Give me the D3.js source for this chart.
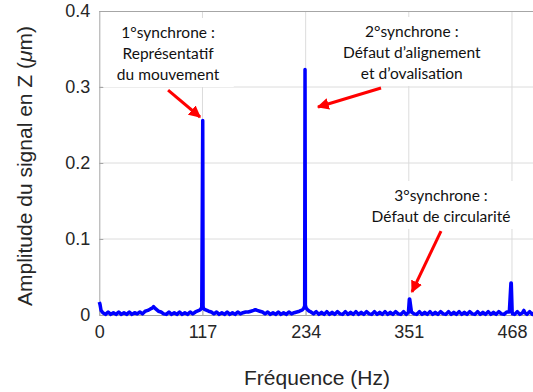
<!DOCTYPE html>
<html><head><meta charset="utf-8">
<script src="https://cdn.jsdelivr.net/npm/d3@7"></script>
<style>body{margin:0;background:#fff}svg{display:block}</style>
</head><body>
<svg id="c" width="533" height="392"></svg>
<script>
// Spectrum (frequency in Hz, amplitude in µm)
const freq = [0,0.8,2,4,7,10,13,16,19,22,25,28,31,34,37,40,43,46,49,52,55,58,60,61.5,63,65,67,70,73,76,79,82,85,88,91,94,97,100,103,106,109,111,113,114.5,116.2,117.3,117.7,118.5,120,122,124,127,130,133,136,139,142,145,148,151,154,157,160,163,166,169,172,175,177,179,182,185,188,191,194,197,200,203,206,209,212,215,218,221,224,227,229,230.5,232,232.9,233.3,233.7,234.6,236,238,240,243,246,249,252,255,258,261,264,267,270,273,276,279,282,285,288,291,294,297,300,303,306,309,312,315,318,321,324,327,330,333,336,339,342,345,348,350.2,350.6,351.6,352,354,357,360,363,366,369,372,375,378,381,384,387,390,393,396,399,402,405,408,411,414,417,420,423,426,429,432,435,438,441,444,447,450,453,456,459,462,465,466.8,467.2,468.2,468.6,471,474,477,480,481.5,482.5,485,488,491,494,497,500,505,510,515,520];
const amp  = [0.017,0.014,0.006,0.003,0.0008,0.004,0.0008,0.003,0.0008,0.004,0.0008,0.003,0.0008,0.004,0.0008,0.003,0.0015,0.004,0.0015,0.005,0.006,0.008,0.009,0.011,0.009,0.007,0.005,0.004,0.0015,0.0008,0.004,0.0008,0.003,0.0008,0.004,0.0008,0.003,0.0008,0.004,0.0015,0.004,0.005,0.006,0.007,0.010,0.256,0.011,0.008,0.007,0.006,0.005,0.004,0.0015,0.004,0.0008,0.003,0.0008,0.004,0.0008,0.003,0.0008,0.004,0.0015,0.003,0.004,0.004,0.005,0.006,0.007,0.006,0.005,0.004,0.0015,0.004,0.0008,0.003,0.0008,0.004,0.0008,0.003,0.0008,0.004,0.0015,0.003,0.004,0.005,0.006,0.007,0.009,0.012,0.323,0.013,0.009,0.007,0.005,0.004,0.0015,0.0045,0.0008,0.0035,0.0008,0.0045,0.0008,0.0035,0.0008,0.0045,0.0015,0.0008,0.0045,0.0008,0.0035,0.0008,0.0045,0.0008,0.0035,0.0008,0.0045,0.0015,0.0008,0.0045,0.0008,0.0035,0.0008,0.0045,0.0008,0.0035,0.0008,0.0045,0.0015,0.0008,0.0045,0.0008,0.003,0.004,0.021,0.021,0.004,0.0015,0.0008,0.0045,0.0008,0.0035,0.0008,0.0045,0.0008,0.0035,0.0008,0.0045,0.0015,0.0008,0.0045,0.0008,0.0035,0.0008,0.0045,0.0008,0.0035,0.0008,0.0045,0.0015,0.0008,0.0045,0.0008,0.0035,0.0008,0.0045,0.0008,0.0035,0.0008,0.0045,0.0015,0.0008,0.004,0.004,0.042,0.042,0.004,0.0015,0.0008,0.0045,0.0008,0.003,0.006,0.003,0.0008,0.0045,0.0008,0.0035,0.0008,0.0045,0.0015,0.0008,0.0045,0.0008,0.003];

const xTicks = [0,117,234,351,468];
const yTicks = [0,0.1,0.2,0.3,0.4];
const yTickLabels = ["0","0.1","0.2","0.3","0.4"];

// Annotations (positions in data units: Hz, µm)
const annoLines = [
  ["1°synchrone :","Représentatif","du mouvement"],
  ["2°synchrone :","Défaut d’alignement","et d’ovalisation"],
  ["3°synchrone :","Défaut de circularité"]
];
const annoX = [78, 354.4, 387.5];
const annoY = [0.3645, 0.3658, 0.150];
const arrowFrom = [[78,0.296],[319.5,0.2987],[387.5,0.1105]];
const arrowTo   = [[114.2,0.2605],[248,0.2737],[354.6,0.0303]];

const svg = d3.select("#c");
const L = 99.3, T = 11, B = 315;
const x = d3.scaleLinear().domain([0,520]).range([L, L + 520*0.8818]);
const y = d3.scaleLinear().domain([0,0.4]).range([B, T]);
const X1 = x(520);

// grid
const grid = svg.append("g");
grid.selectAll("line.v").data(xTicks.slice(1)).join("line")
  .attr("x1",d=>x(d)).attr("x2",d=>x(d)).attr("y1",T).attr("y2",B)
  .attr("stroke","#dcdcdc").attr("stroke-width",1);
grid.selectAll("line.h").data(yTicks.slice(1,4)).join("line")
  .attr("x1",L).attr("x2",X1).attr("y1",d=>y(d)).attr("y2",d=>y(d))
  .attr("stroke","#dcdcdc").attr("stroke-width",1);

// axes
const yAxis = d3.axisLeft(y).tickValues(yTicks).tickFormat((d,i)=>yTickLabels[i]).tickSizeInner(-4).tickSizeOuter(0).tickPadding(9);
const gy = svg.append("g").attr("transform",`translate(${L},0)`).call(yAxis);
const xAxis = d3.axisBottom(x).tickValues(xTicks).tickFormat(d=>String(d)).tickSizeInner(-4).tickSizeOuter(0).tickPadding(10);
const gx = svg.append("g").attr("transform",`translate(0,${B})`).call(xAxis);
[gx,gy].forEach(g=>{
  g.select(".domain").attr("stroke","#a6a6a6");
  g.selectAll(".tick line").attr("stroke","#a6a6a6");
  g.selectAll(".tick text").attr("fill","#262626").style("font-family","'Liberation Sans',Arial,sans-serif").style("font-size","18px");
});
svg.append("line").attr("x1",L).attr("x2",X1).attr("y1",T+0.5).attr("y2",T+0.5).attr("stroke","#a6a6a6");

// annotation text + white boxes
const annoG = svg.append("g");
const boxG = annoG.append("g");
const lineG = annoG.append("g");
const arrowG = annoG.append("g");
const textG = annoG.append("g");
annoLines.forEach((lines,i)=>{
  const t = textG.append("text").attr("text-anchor","middle")
    .style("font-family","Lato,'Open Sans',sans-serif").style("font-size","15.5px").attr("fill","#111");
  lines.forEach((s,j)=>{
    t.append("tspan").attr("x",x(annoX[i])).attr("y",y(annoY[i]) + j*21).text(s);
  });
  const bb = t.node().getBBox();
  boxG.append("rect").attr("x",bb.x-14).attr("y",bb.y-5).attr("width",bb.width+28).attr("height",bb.height+9).attr("fill","#fff");
});

// data line (drawn over boxes)
const pts = freq.map((f,i)=>[f,amp[i]]);
lineG.append("path")
  .datum(pts)
  .attr("d", d3.line().x(d=>x(d[0])).y(d=>y(d[1])))
  .attr("fill","none").attr("stroke","#0000ff").attr("stroke-width",3.5).attr("stroke-linejoin","round");

// arrows
const defs = svg.append("defs");
defs.append("marker").attr("id","ah").attr("viewBox","0 0 10 10").attr("refX",9).attr("refY",5)
  .attr("markerWidth",4).attr("markerHeight",4).attr("orient","auto")
  .append("path").attr("d","M0,0L10,5L0,10z").attr("fill","#ff0000");
arrowG.selectAll("line").data(arrowFrom).join("line")
  .attr("x1",d=>x(d[0])).attr("y1",d=>y(d[1]))
  .attr("x2",(d,i)=>x(arrowTo[i][0])).attr("y2",(d,i)=>y(arrowTo[i][1]))
  .attr("stroke","#ff0000").attr("stroke-width",3).attr("marker-end","url(#ah)");

// axis titles
svg.append("text").attr("x",317).attr("y",385).attr("text-anchor","middle")
  .style("font-family","'Liberation Sans',Arial,sans-serif").style("font-size","21px").attr("fill","#262626")
  .text("Fréquence (Hz)");
const yl = svg.append("text").attr("transform","translate(32,166) rotate(-90)").attr("text-anchor","middle")
  .style("font-family","'Liberation Sans',Arial,sans-serif").style("font-size","21px").attr("fill","#262626");
yl.append("tspan").text("Amplitude du signal en Z (");
yl.append("tspan").style("font-style","italic").text("μ");
yl.append("tspan").text("m)");
</script>
</body></html>
